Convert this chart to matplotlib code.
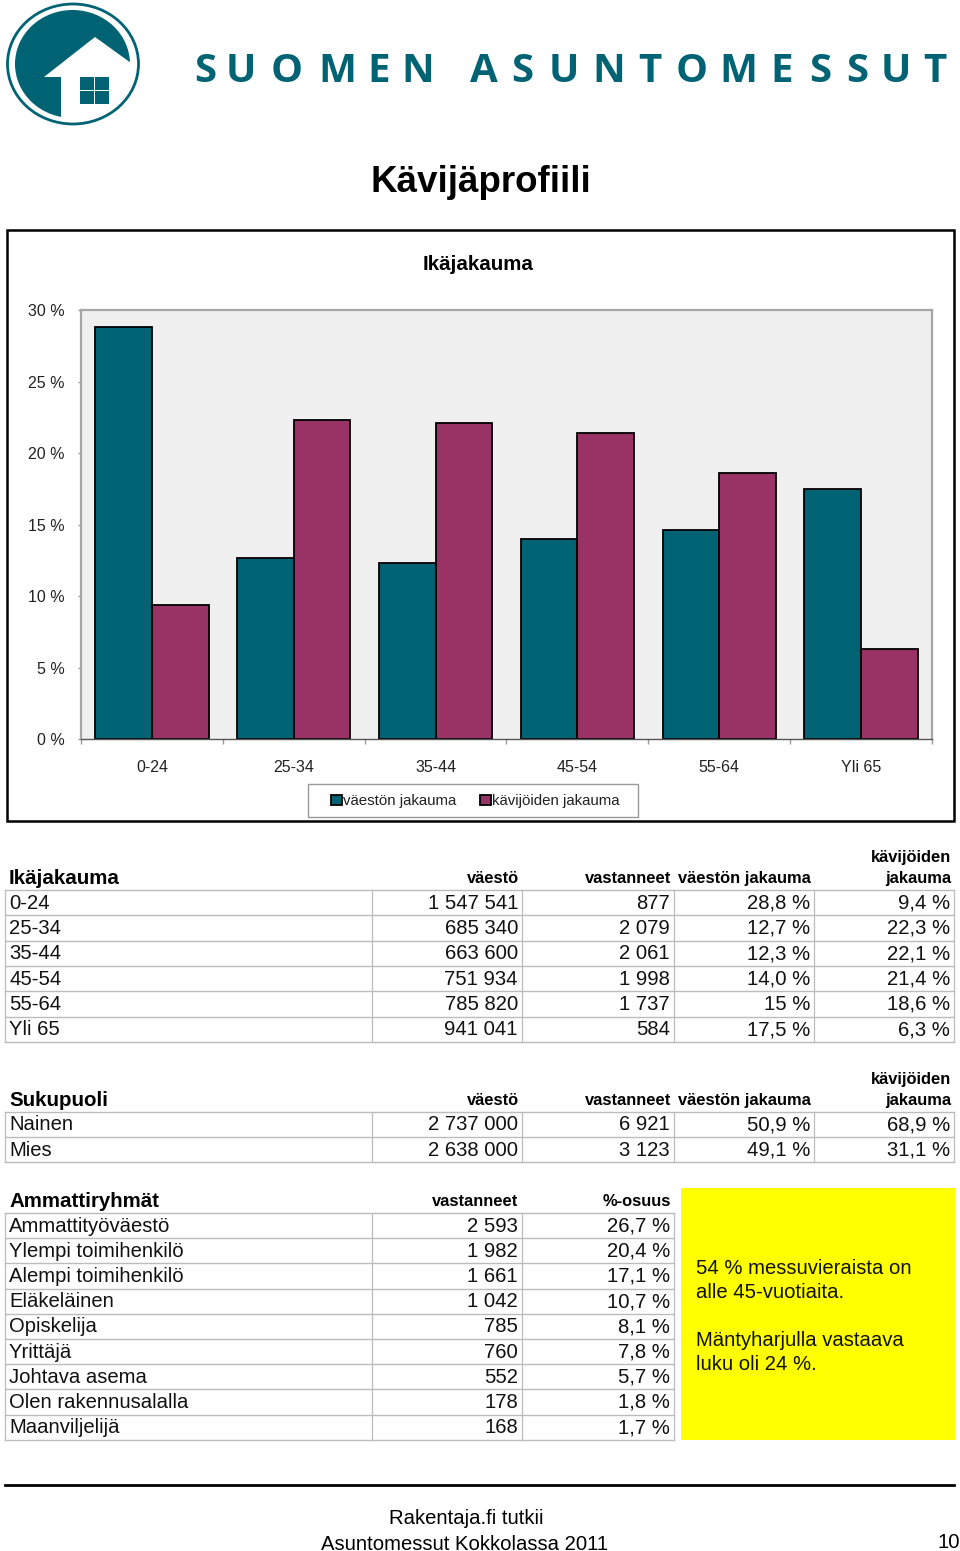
"""Kavijaprofiili page: age bar chart, three tables and the logo."""

import matplotlib
matplotlib.use("Agg")
import matplotlib.pyplot as plt
from matplotlib.patches import Ellipse, Polygon, Rectangle

plt.rcParams["font.family"] = ["Liberation Sans", "DejaVu Sans"]

W, H = 960, 1551
TEAL = "#006374"
PURPLE = "#993366"
GRID = "#bcbcbc"

age_groups = ["0-24", "25-34", "35-44", "45-54", "55-64", "Yli 65"]
population_share = [28.8, 12.7, 12.3, 14.0, 14.6, 17.5]
visitor_share = [9.4, 22.3, 22.1, 21.4, 18.6, 6.3]
y_ticks = [0, 5, 10, 15, 20, 25, 30]

age_population = ["1 547 541", "685 340", "663 600", "751 934", "785 820", "941 041"]
age_respondents = ["877", "2 079", "2 061", "1 998", "1 737", "584"]
age_pop_labels = ["28,8 %", "12,7 %", "12,3 %", "14,0 %", "15 %", "17,5 %"]
age_vis_labels = ["9,4 %", "22,3 %", "22,1 %", "21,4 %", "18,6 %", "6,3 %"]

gender_names = ["Nainen", "Mies"]
gender_population = ["2 737 000", "2 638 000"]
gender_respondents = ["6 921", "3 123"]
gender_pop_labels = ["50,9 %", "49,1 %"]
gender_vis_labels = ["68,9 %", "31,1 %"]

job_names = ["Ammattityöväestö", "Ylempi toimihenkilö", "Alempi toimihenkilö", "Eläkeläinen",
             "Opiskelija", "Yrittäjä", "Johtava asema", "Olen rakennusalalla", "Maanviljelijä"]
job_respondents = ["2 593", "1 982", "1 661", "1 042", "785", "760", "552", "178", "168"]
job_share_labels = ["26,7 %", "20,4 %", "17,1 %", "10,7 %", "8,1 %", "7,8 %", "5,7 %", "1,8 %", "1,7 %"]

brand_letters = list("SUOMENASUNTOMESSUT")
brand_x = [205, 241, 287, 337, 379, 418, 484, 522, 564, 609, 650, 692, 738, 782, 820, 857, 896, 935]

COLS_5 = [5, 372, 522, 674, 814, 954]
COLS_3 = [5, 372, 522, 674]


def draw_table(page, columns, edges, cols):
    for y in edges:
        page.plot([cols[0], cols[-1]], [y, y], color=GRID, lw=1.0)
    for x in cols:
        page.plot([x, x], [edges[0], edges[-1]], color=GRID, lw=0.9)
    for r in range(len(edges) - 1):
        mid = (edges[r] + edges[r + 1]) / 2 + 0.5
        page.text(cols[0] + 4, mid, columns[0][r], fontsize=14.6, ha="left", va="center", color="#111111")
        for c, col in enumerate(columns[1:], start=1):
            page.text(cols[c + 1] - 4, mid, col[r], fontsize=14.6, ha="right", va="center", color="#111111")


def header(page, title, base_y, labels, right_x, double_last=True):
    page.text(9, base_y, title, fontsize=14.8, fontweight="bold", ha="left", va="baseline")
    for lab, x in zip(labels, right_x):
        page.text(x, base_y - 1, lab, fontsize=11.9, fontweight="bold", ha="right", va="baseline")
    if double_last:
        page.text(951, base_y - 1, "jakauma", fontsize=11.9, fontweight="bold", ha="right", va="baseline")
        page.text(951, base_y - 22, "kävijöiden", fontsize=11.9, fontweight="bold", ha="right", va="baseline")


fig = plt.figure(figsize=(W / 100, H / 100), dpi=100, facecolor="white")
page = fig.add_axes([0, 0, 1, 1], zorder=0)
page.set_xlim(0, W)
page.set_ylim(H, 0)
page.axis("off")

# logo
page.add_patch(Ellipse((72.5, 64), 115, 108, fc=TEAL, ec="none"))
page.add_patch(Polygon([[95, 37], [131, 63], [142, 63], [142, 126], [61, 126], [61, 77], [44, 77]],
                       fc="white", ec="none"))
page.add_patch(Ellipse((73, 64), 131, 120, fill=False, ec=TEAL, lw=2))
for wx, wy in [(80, 77), (95, 77), (80, 91), (95, 91)]:
    page.add_patch(Rectangle((wx, wy), 13.5, 12.5, fc=TEAL, ec="none"))
for letter, x in zip(brand_letters, brand_x):
    page.text(x, 71, letter, fontsize=29, fontweight="bold", family="Open Sans",
              color=TEAL, ha="center", va="center")

page.text(481, 182, "Kävijäprofiili", fontsize=26.5, fontweight="bold", ha="center", va="center")

# chart frame and title
page.add_patch(Rectangle((7, 230), 947, 591, fill=False, ec="black", lw=1.8))
page.text(478, 264.5, "Ikäjakauma", fontsize=14.8, fontweight="bold", ha="center", va="center")

# bar chart
ax = fig.add_axes([81 / W, 1 - 739.5 / H, 851 / W, 429.5 / H], zorder=1)
ax.set_facecolor("#f0f0f0")
positions = list(range(len(age_groups)))
bar_w = 0.4
ax.bar([p - bar_w / 2 for p in positions], population_share, bar_w, color=TEAL,
       edgecolor="black", linewidth=1.3, label="väestön jakauma")
ax.bar([p + bar_w / 2 for p in positions], visitor_share, bar_w, color=PURPLE,
       edgecolor="black", linewidth=1.3, label="kävijöiden jakauma")
ax.set_xlim(-0.5, 5.5)
ax.set_ylim(0, 30)
ax.set_yticks(y_ticks)
ax.set_yticklabels([f"{v} %" for v in y_ticks], fontsize=11.5, color="#222222")
ax.set_xticks([p + 0.5 for p in [-1] + positions])
ax.set_xticklabels([])
ax.set_xticks(positions, minor=True)
ax.set_xticklabels(age_groups, minor=True, fontsize=11.5, color="#222222")
ax.tick_params(axis="y", length=2.5, width=1, color="#999999", pad=9.5)
ax.tick_params(axis="x", which="major", length=3.5, width=1, color="#999999")
ax.tick_params(axis="x", which="minor", length=0, pad=15)
for spine in ax.spines.values():
    spine.set_color("#a6a6a6")
    spine.set_linewidth(1.6)
ax.spines["bottom"].set_color("#555555")
ax.spines["bottom"].set_linewidth(1)

# legend box is drawn on the page so its margins can differ from the text padding
page.add_patch(Rectangle((308, 784), 330, 33, fc="white", ec="#999999", lw=1))
leg = ax.legend(loc="center", bbox_to_anchor=(475.5 / W, 1 - 801.5 / H), bbox_transform=fig.transFigure,
                ncol=2, fontsize=10.8, frameon=False, handlelength=0.68, handleheight=0.68,
                handletextpad=0.1, columnspacing=1.6, borderpad=0, borderaxespad=0, labelcolor="#222222")
for handle in leg.legend_handles:
    handle.set_edgecolor("black")

# tables
five_heads = ["väestö", "vastanneet", "väestön jakauma"]
five_x = [519, 671, 811]
header(page, "Ikäjakauma", 884, five_heads, five_x)
draw_table(page, [age_groups, age_population, age_respondents, age_pop_labels, age_vis_labels],
           [890 + i * 25.33 for i in range(7)], COLS_5)

header(page, "Sukupuoli", 1106, five_heads, five_x)
draw_table(page, [gender_names, gender_population, gender_respondents, gender_pop_labels, gender_vis_labels],
           [1112, 1137, 1162], COLS_5)

header(page, "Ammattiryhmät", 1207, ["vastanneet", "%-osuus"], [518, 671], double_last=False)
draw_table(page, [job_names, job_respondents, job_share_labels],
           [1213 + i * 25.2 for i in range(10)], COLS_3)

# yellow note box
page.add_patch(Rectangle((681, 1188), 274, 252, fc="#ffff00", ec="none"))
for y, line in [(1269, "54 % messuvieraista on"), (1293, "alle 45-vuotiaita."),
                (1340, "Mäntyharjulla vastaava"), (1364, "luku oli 24 %.")]:
    page.text(696, y, line, fontsize=14.6, ha="left", va="center", color="#111111")

# footer
page.plot([5, 954], [1485, 1485], color="black", lw=2)
page.text(466, 1518, "Rakentaja.fi tutkii", fontsize=14.6, ha="center", va="center")
page.text(465, 1544, "Asuntomessut Kokkolassa 2011", fontsize=14.6, ha="center", va="center")
page.text(949, 1542, "10", fontsize=14.6, ha="center", va="center")

fig.savefig("out.png", dpi=100)
